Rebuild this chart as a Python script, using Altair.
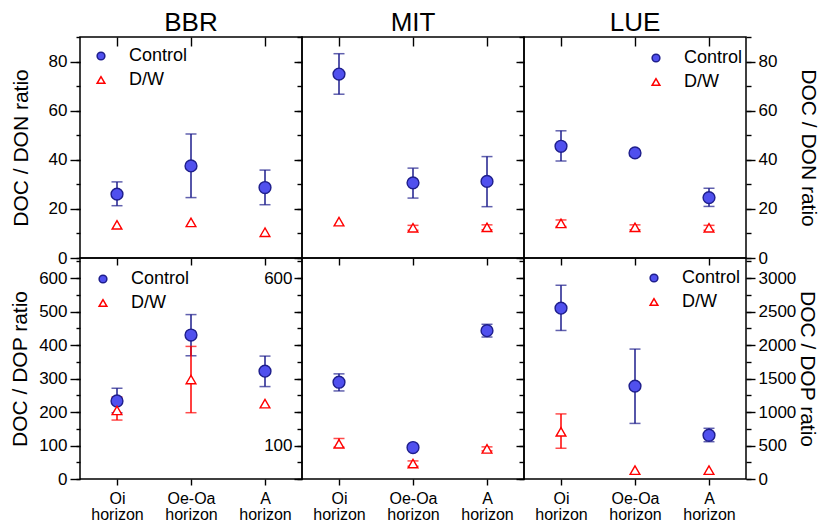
import altair as alt
import pandas as pd

FONT = "Liberation Sans"
SITES = ["BBR", "MIT", "LUE"]
HORIZONS = ["Oi horizon", "Oe-Oa horizon", "A horizon"]
TREATMENTS = ["Control", "D/W"]
NA = None

# ---- DOC / DON ratio (top row) ----
don_mean = {
    "Control": {"BBR": [26.0, 37.5, 28.7], "MIT": [74.9, 30.6, 31.2], "LUE": [45.5, 42.8, 24.6]},
    "D/W": {"BBR": [13.5, 14.5, 10.5], "MIT": [14.8, 12.3, 12.5], "LUE": [14.1, 12.5, 12.3]},
}
don_lo = {
    "Control": {"BBR": [21.3, 24.6, 21.7], "MIT": [66.7, 24.4, 20.9], "LUE": [39.5, 41.6, 21.0]},
    "D/W": {"BBR": [NA, NA, NA], "MIT": [NA, 11.3, 11.5], "LUE": [12.8, 11.5, 11.3]},
}
don_hi = {
    "Control": {"BBR": [31.0, 50.5, 35.8], "MIT": [83.2, 36.6, 41.3], "LUE": [51.8, 43.6, 28.4]},
    "D/W": {"BBR": [NA, NA, NA], "MIT": [NA, 13.3, 13.5], "LUE": [15.5, 13.5, 13.3]},
}

# ---- DOC / DOP ratio (bottom row) ----
dop_mean = {
    "Control": {"BBR": [233, 430, 322], "MIT": [289, 94, 443], "LUE": [2551, 1387, 654]},
    "D/W": {"BBR": [205, 297, 225], "MIT": [105, 46, 90], "LUE": [704, 132, 132]},
}
dop_lo = {
    "Control": {"BBR": [198, 368, 276], "MIT": [263, NA, 424], "LUE": [2218, 830, 557]},
    "D/W": {"BBR": [176, 198, NA], "MIT": [95, 38, 84], "LUE": [459, NA, NA]},
}
dop_hi = {
    "Control": {"BBR": [271, 491, 367], "MIT": [314, NA, 462], "LUE": [2893, 1940, 757]},
    "D/W": {"BBR": [245, 396, NA], "MIT": [121, 54, 96], "LUE": [972, NA, NA]},
}

rows = []
for ratio, (M, L, H) in {"DON": (don_mean, don_lo, don_hi), "DOP": (dop_mean, dop_lo, dop_hi)}.items():
    for tr in TREATMENTS:
        for site in SITES:
            for i, hz in enumerate(HORIZONS):
                rows.append(dict(ratio=ratio, site=site, treatment=tr, horizon=hz,
                                 mean=M[tr][site][i], lo=L[tr][site][i], hi=H[tr][site][i]))
df = pd.DataFrame(rows)

BLUE_FILL = "#5050ee"
NAVY = "#1e1e8c"
RED = "#ff0000"
W, H = 222, 221


def ax(**kw):
    base = dict(domain=False, grid=False, tickColor="black", tickWidth=1.4, labels=False,
                title=None, labelColor="black", labelFont=FONT, labelFontSize=17,
                titleFont=FONT, titleFontSize=21, titleFontWeight="normal", titleColor="black")
    base.update(kw)
    return alt.Axis(**base)


def panel(site, ratio):
    top = ratio == "DON"
    d = df[(df.site == site) & (df.ratio == ratio)]
    if top:
        dom, major, minor = [0, 90], list(range(0, 81, 20)), list(range(0, 91, 10))
    elif site == "LUE":
        dom, major, minor = [0, 3300], list(range(0, 3001, 500)), list(range(0, 3301, 250))
    else:
        dom, major, minor = [0, 660], list(range(0, 601, 100)), list(range(0, 651, 50))
    ttl = "DOC / DON ratio" if top else "DOC / DOP ratio"
    ys = alt.Scale(domain=dom, nice=False, zero=False)
    xs = alt.Scale(type="point", domain=HORIZONS, padding=0.5)

    yaxes = []
    if site == "BBR":
        yaxes.append(ax(orient="left", values=major, tickSize=10, labels=True, labelPadding=3,
                        format="d", title=ttl, titlePadding=(17 if top else 8)))
        yaxes.append(ax(orient="left", values=minor, tickSize=4))
    else:
        if site == "MIT" and not top:
            yaxes.append(ax(orient="left", values=major, tickSize=8, labels=True, labelPadding=2,
                            format="d",
                            labelExpr="(datum.value == 100 || datum.value == 600) ? datum.label : ''"))
        else:
            yaxes.append(ax(orient="left", values=major, tickSize=8))
        yaxes.append(ax(orient="left", values=minor, tickSize=5))
    if site == "LUE":
        yaxes.append(ax(orient="right", values=major, tickSize=9, labels=True, labelPadding=3,
                        format="d", title=ttl, titlePadding=(21 if top else 1)))
        yaxes.append(ax(orient="right", values=minor, tickSize=5))

    if top:
        xaxes = [ax(orient="bottom", tickSize=7), ax(orient="top", tickSize=9, offset=-9)]
    else:
        xaxes = [ax(orient="bottom", tickSize=6, labels=True, labelAngle=0, labelPadding=5,
                    labelFontSize=16, labelExpr="split(datum.label, ' ')", labelLineHeight=16)]

    X = lambda a=None: alt.X("horizon:N", scale=xs, sort=HORIZONS, axis=a)

    layers = []
    for tr, col in [("Control", NAVY), ("D/W", RED)]:
        sub = alt.Chart(d).transform_filter(
            f"datum.treatment == '{tr}' && isValid(datum.lo)")
        layers.append(sub.mark_rule(color=col, strokeWidth=1.5).encode(
            x=X(), y=alt.Y("lo:Q", scale=ys, axis=None), y2="hi:Q"))
        layers.append(sub.mark_tick(color=col, orient="horizontal", size=11, thickness=1.5).encode(
            x=X(), y=alt.Y("lo:Q", scale=ys, axis=None)))
        layers.append(sub.mark_tick(color=col, orient="horizontal", size=11, thickness=1.5).encode(
            x=X(), y=alt.Y("hi:Q", scale=ys, axis=None)))

    if site == "MIT":
        leg = None
    else:
        pos = {("BBR", True): (12, 10), ("BBR", False): (14, 12),
               ("LUE", True): (123, 12), ("LUE", False): (121, 11)}[(site, top)]
        leg = alt.Legend(title=None, orient="none", legendX=pos[0], legendY=pos[1],
                         labelFont=FONT, labelFontSize=18, labelColor="black",
                         symbolSize=60, symbolStrokeWidth=1.5, rowPadding=6,
                         labelOffset=19, padding=0)
    enc = dict(
        x=X(), y=alt.Y("mean:Q", scale=ys, axis=None),
        shape=alt.Shape("treatment:N", scale=alt.Scale(domain=TREATMENTS, range=["circle", "triangle-up"]), legend=leg),
        fill=alt.Fill("treatment:N", scale=alt.Scale(domain=TREATMENTS, range=[BLUE_FILL, "white"]), legend=leg),
        stroke=alt.Stroke("treatment:N", scale=alt.Scale(domain=TREATMENTS, range=[NAVY, RED]), legend=leg),
    )
    for tr, sz in [("Control", 140), ("D/W", 95)]:
        layers.append(alt.Chart(d).transform_filter(f"datum.treatment == '{tr}'").mark_point(
            filled=True, opacity=1, strokeWidth=1.4, size=sz).encode(**enc))

    n = max(len(xaxes), len(yaxes))
    for i in range(n):
        xa = xaxes[i] if i < len(xaxes) else None
        ya = yaxes[i] if i < len(yaxes) else None
        layers.append(alt.Chart(d).mark_point(opacity=0).encode(
            x=X(xa), y=alt.Y("mean:Q", scale=ys, axis=ya)))

    props = dict(width=W, height=H)
    if top:
        props["title"] = alt.Title(site, font=FONT, fontSize=26, fontWeight="normal",
                                   color="black", anchor="middle", offset=0)
    return alt.layer(*layers).resolve_axis(x="independent", y="independent").properties(**props)


panels = [panel(s, "DON") for s in SITES] + [panel(s, "DOP") for s in SITES]
chart = alt.concat(*panels, columns=3, spacing=0, bounds="flush").resolve_scale(
    x="independent", y="independent", fill="independent", stroke="independent",
    shape="independent"
).resolve_legend(fill="independent", stroke="independent", shape="independent").configure_view(
    stroke="black", strokeWidth=1.5
).properties(padding={"left": 0, "top": 1, "right": 0, "bottom": 0}, background="white")

chart.save("out.html", embed_options={"renderer": "svg", "actions": False})
